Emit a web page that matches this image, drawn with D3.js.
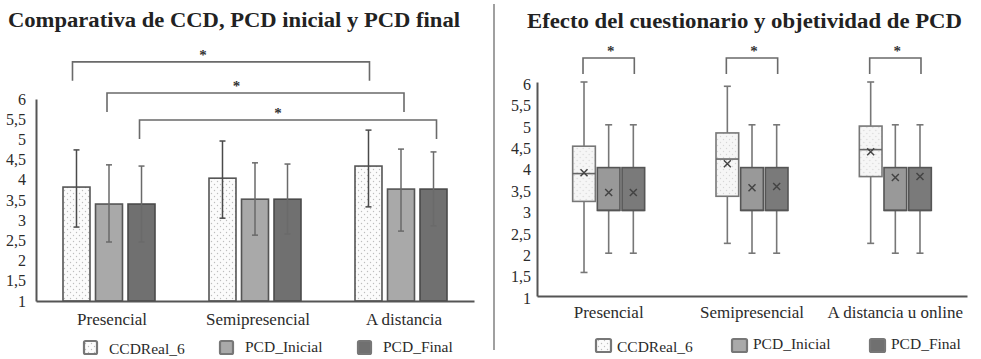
<!DOCTYPE html>
<html><head><meta charset="utf-8">
<script src="https://cdnjs.cloudflare.com/ajax/libs/d3/7.8.5/d3.min.js"></script>
<style>
html,body{margin:0;padding:0;background:#fff;}
svg, svg text{font-family:"Liberation Serif","DejaVu Serif","Times New Roman",serif !important;}
</style></head>
<body><svg id="c" width="981" height="359"></svg>
<script>
// ---------- DATA ----------
const series = ["CCDReal_6", "PCD_Inicial", "PCD_Final"];
const categoriesLeft = ["Presencial", "Semipresencial", "A distancia"];
const categoriesRight = ["Presencial", "Semipresencial", "A distancia u online"];
const yTicks = [1, 1.5, 2, 2.5, 3, 3.5, 4, 4.5, 5, 5.5, 6];

// Left: bar means with error bars
const meanCCD = [3.82, 4.04, 4.34];
const meanInicial = [3.40, 3.52, 3.77];
const meanFinal = [3.40, 3.52, 3.77];
const errHighCCD = [4.74, 4.96, 5.23];
const errLowCCD = [2.83, 3.05, 3.33];
const errHighInicial = [4.37, 4.42, 4.76];
const errLowInicial = [2.46, 2.63, 2.73];
const errHighFinal = [4.34, 4.39, 4.69];
const errLowFinal = [2.46, 2.66, 2.86];

// Right: box plots
const boxMinCCD = [1.55, 2.23, 2.23];
const boxQ1CCD = [3.21, 3.33, 3.79];
const boxMedCCD = [3.86, 4.20, 4.42];
const boxQ3CCD = [4.50, 4.81, 4.97];
const boxMaxCCD = [6, 5.9, 6];
const boxMeanCCD = [3.88, 4.09, 4.37];
const boxMinInicial = [2, 2, 2];
const boxQ1Inicial = [3, 3, 3];
const boxMedInicial = [3, 3, 3];
const boxQ3Inicial = [4, 4, 4];
const boxMaxInicial = [5, 5, 5];
const boxMeanInicial = [3.42, 3.53, 3.77];
const boxMinFinal = [2, 2, 2];
const boxQ1Final = [3, 3, 3];
const boxMedFinal = [3, 3, 3];
const boxQ3Final = [4, 4, 4];
const boxMaxFinal = [5, 5, 5];
const boxMeanFinal = [3.42, 3.56, 3.79];

// ---------- STYLE ----------
const fills = {"CCDReal_6": "url(#dots)", "PCD_Inicial": "#a9a9a9", "PCD_Final": "#707070"};
const boxFills = {"CCDReal_6": "url(#dotsLight)", "PCD_Inicial": "#999999", "PCD_Final": "#7a7a7a"};
const strokes = {"CCDReal_6": "#555", "PCD_Inicial": "#555", "PCD_Final": "#4a4a4a"};
const txt = "#2b2b2b";
const fmt = v => String(v).replace(".", ",");

const svg = d3.select("#c");
const defs = svg.append("defs");
function dotPattern(id, bg, dot) {
  const p = defs.append("pattern").attr("id", id).attr("patternUnits", "userSpaceOnUse")
    .attr("width", 6).attr("height", 6);
  p.append("rect").attr("width", 6).attr("height", 6).attr("fill", bg);
  p.append("circle").attr("cx", 1.5).attr("cy", 1.5).attr("r", 0.7).attr("fill", dot);
  p.append("circle").attr("cx", 4.5).attr("cy", 4.5).attr("r", 0.7).attr("fill", dot);
}
dotPattern("dots", "#fbfbfb", "#bdbdbd");
dotPattern("dotsLight", "#f6f6f6", "#d6d6d6");

// separator
svg.append("line").attr("x1", 494).attr("x2", 494).attr("y1", 4).attr("y2", 350)
  .attr("stroke", "#a0a0a0").attr("stroke-width", 2);

// ================= LEFT CHART =================
const gL = svg.append("g");
gL.append("text").attr("x", 8).attr("y", 27).attr("fill", "#222")
  .attr("font-weight", "bold").attr("font-size", 20)
  .attr("textLength", 452).attr("lengthAdjust", "spacingAndGlyphs")
  .text("Comparativa de CCD, PCD inicial y PCD final");

const yL = d3.scaleLinear().domain([1, 6]).range([301, 99]);
const xL = d3.scaleBand().domain(categoriesLeft).range([36, 474]);
const xL1 = d3.scaleBand().domain(series).range([-46, 46]).paddingInner(0.17);

const axL = gL.append("g").attr("transform", "translate(36,0)")
  .call(d3.axisLeft(yL).tickValues(yTicks).tickFormat(fmt).tickSize(0).tickPadding(10));
axL.attr("font-family", null);
axL.select(".domain").attr("stroke", "#555").attr("stroke-width", 2);
axL.selectAll("text").attr("font-size", 16).attr("fill", txt);

const meansL = [meanCCD, meanInicial, meanFinal];
const hiL = [errHighCCD, errHighInicial, errHighFinal];
const loL = [errLowCCD, errLowInicial, errLowFinal];
const barsData = [];
series.forEach((s, si) => categoriesLeft.forEach((c, ci) => barsData.push({
  s, c, v: meansL[si][ci], hi: hiL[si][ci], lo: loL[si][ci]
})));

gL.selectAll("rect.bar").data(barsData).enter().append("rect").attr("class", "bar")
  .attr("x", d => xL(d.c) + xL.bandwidth() / 2 + xL1(d.s))
  .attr("width", xL1.bandwidth())
  .attr("y", d => yL(d.v)).attr("height", d => yL(1) - yL(d.v))
  .attr("fill", d => fills[d.s]).attr("stroke", d => strokes[d.s]).attr("stroke-width", 1.6);

const errG = gL.selectAll("g.err").data(barsData).enter().append("g")
  .attr("transform", d => `translate(${xL(d.c) + xL.bandwidth() / 2 + xL1(d.s) + xL1.bandwidth() / 2},0)`)
  .attr("stroke", d => d.s === "CCDReal_6" ? "#4a4a4a" : "#6a6a6a").attr("stroke-width", 1.5);
errG.append("line").attr("y1", d => yL(d.hi)).attr("y2", d => yL(d.lo));
errG.append("line").attr("x1", -3).attr("x2", 3).attr("y1", d => yL(d.hi)).attr("y2", d => yL(d.hi));
errG.append("line").attr("x1", -3).attr("x2", 3).attr("y1", d => yL(d.lo)).attr("y2", d => yL(d.lo));

// x axis
const axXL = gL.append("g").attr("transform", `translate(0,${yL(1)})`)
  .call(d3.axisBottom(xL).tickSize(0).tickPadding(12));
axXL.attr("font-family", null);
axXL.select(".domain").attr("stroke", "#555").attr("stroke-width", 2);
axXL.selectAll("text").attr("font-size", 17).attr("fill", txt).attr("dx", 3);

// significance brackets (left)
const bracketLevelsL = [6.92, 6.15, 5.48];
const starShiftL = [-18, -19, -10];
series.forEach((s, i) => {
  const xa = xL(categoriesLeft[0]) + xL.bandwidth() / 2 + xL1(s) + xL1.bandwidth() / 2 - (i === 0 ? 4 : 2);
  const xb = xL(categoriesLeft[2]) + xL.bandwidth() / 2 + xL1(s) + xL1.bandwidth() / 2 + (i === 0 ? 1 : 3);
  const yt = yL(bracketLevelsL[i]);
  gL.append("path").attr("d", `M${xa},${yt + 19}V${yt}H${xb}V${yt + 19}`)
    .attr("fill", "none").attr("stroke", "#6a6a6a").attr("stroke-width", 1.6);
  gL.append("text").attr("x", (xa + xb) / 2 + starShiftL[i]).attr("y", yt - 2)
    .attr("text-anchor", "middle").attr("font-size", 15).attr("font-weight", "bold").attr("fill", "#333")
    .text("*");
});

// legend (left)
const legXL = [83, 219, 357];
series.forEach((s, i) => {
  gL.append("rect").attr("x", legXL[i] + 1).attr("y", 341).attr("width", 13).attr("height", 13)
    .attr("rx", 1.5).attr("fill", fills[s]).attr("stroke", "#777").attr("stroke-width", 2.2);
  gL.append("text").attr("x", legXL[i] + 26).attr("y", i === 0 ? 354 : 352).attr("font-size", 15.5)
    .attr("fill", txt).text(s);
});

// ================= RIGHT CHART =================
const gR = svg.append("g");
gR.append("text").attr("x", 527).attr("y", 28).attr("fill", "#222")
  .attr("font-weight", "bold").attr("font-size", 20)
  .attr("textLength", 435).attr("lengthAdjust", "spacingAndGlyphs")
  .text("Efecto del cuestionario y objetividad de PCD");

const yR = d3.scaleLinear().domain([1, 6]).range([296, 82]);
const xR = d3.scaleBand().domain(categoriesRight).range([537, 967]);
const xR1 = d3.scaleBand().domain(series).range([-36, 36]).paddingInner(0.08);

const axR = gR.append("g").attr("transform", "translate(537,0)")
  .call(d3.axisLeft(yR).tickValues(yTicks).tickFormat(fmt).tickSize(0).tickPadding(6));
axR.attr("font-family", null);
axR.select(".domain").attr("stroke", "#555").attr("stroke-width", 2);
axR.selectAll("text").attr("font-size", 16).attr("fill", txt).attr("dy", "0.45em");

const boxSets = [
  [boxMinCCD, boxQ1CCD, boxMedCCD, boxQ3CCD, boxMaxCCD, boxMeanCCD],
  [boxMinInicial, boxQ1Inicial, boxMedInicial, boxQ3Inicial, boxMaxInicial, boxMeanInicial],
  [boxMinFinal, boxQ1Final, boxMedFinal, boxQ3Final, boxMaxFinal, boxMeanFinal]
];
const boxData = [];
series.forEach((s, si) => categoriesRight.forEach((c, ci) => {
  const b = boxSets[si];
  boxData.push({s, c, min: b[0][ci], q1: b[1][ci], med: b[2][ci], q3: b[3][ci], max: b[4][ci], mean: b[5][ci]});
}));

const bx = gR.selectAll("g.box").data(boxData).enter().append("g")
  .attr("transform", d => `translate(${xR(d.c) + xR.bandwidth() / 2 + xR1(d.s)},0)`);
const bw = xR1.bandwidth();
bx.append("line").attr("x1", bw / 2).attr("x2", bw / 2).attr("y1", d => yR(d.max)).attr("y2", d => yR(d.min))
  .attr("stroke", "#777").attr("stroke-width", 1.6);
bx.append("line").attr("x1", bw / 2 - 3.5).attr("x2", bw / 2 + 3.5).attr("y1", d => yR(d.max)).attr("y2", d => yR(d.max))
  .attr("stroke", "#777").attr("stroke-width", 1.6);
bx.append("line").attr("x1", bw / 2 - 3.5).attr("x2", bw / 2 + 3.5).attr("y1", d => yR(d.min)).attr("y2", d => yR(d.min))
  .attr("stroke", "#777").attr("stroke-width", 1.6);
bx.append("rect").attr("x", 0).attr("width", bw).attr("y", d => yR(d.q3)).attr("height", d => yR(d.q1) - yR(d.q3))
  .attr("fill", d => boxFills[d.s]).attr("stroke", d => d.s === "CCDReal_6" ? "#777" : "#555").attr("stroke-width", 1.6);
bx.append("line").attr("x1", 0).attr("x2", bw).attr("y1", d => yR(d.med)).attr("y2", d => yR(d.med))
  .attr("stroke", d => d.s === "CCDReal_6" ? "#666" : "#555").attr("stroke-width", 1.6);
bx.append("path").attr("d", d => {
  const cx = bw / 2, cy = yR(d.mean), r = 3.5;
  return `M${cx - r},${cy - r}L${cx + r},${cy + r}M${cx - r},${cy + r}L${cx + r},${cy - r}`;
}).attr("stroke", "#444").attr("stroke-width", 1.5);

const axXR = gR.append("g").attr("transform", `translate(0,${yR(1)})`)
  .call(d3.axisBottom(xR).tickSize(0).tickPadding(10));
axXR.attr("font-family", null);
axXR.select(".domain").attr("stroke", "#555").attr("stroke-width", 2);
axXR.selectAll("text").attr("font-size", 17).attr("fill", txt);

// brackets (right)
categoriesRight.forEach(c => {
  const xa = xR(c) + xR.bandwidth() / 2 + xR1(series[0]) + bw / 2 - 1;
  const xb = xR(c) + xR.bandwidth() / 2 + xR1(series[2]) + bw / 2 + 1;
  const yt = 58;
  gR.append("path").attr("d", `M${xa},${yt + 16}V${yt}H${xb}V${yt + 16}`)
    .attr("fill", "none").attr("stroke", "#6a6a6a").attr("stroke-width", 1.6);
  gR.append("text").attr("x", (xa + xb) / 2 + 2).attr("y", yt - 2).attr("text-anchor", "middle")
    .attr("font-size", 15).attr("font-weight", "bold").attr("fill", "#333").text("*");
});

// legend (right)
const legXR = [596, 732, 870];
series.forEach((s, i) => {
  gR.append("rect").attr("x", legXR[i]).attr("y", 339).attr("width", 15).attr("height", 13)
    .attr("rx", 1.5).attr("fill", fills[s])
    .attr("stroke", "#777").attr("stroke-width", 2.2);
  gR.append("text").attr("x", legXR[i] + 21).attr("y", i === 0 ? 352 : 349).attr("font-size", 15.5)
    .attr("fill", txt).text(s);
});
</script></body></html>
